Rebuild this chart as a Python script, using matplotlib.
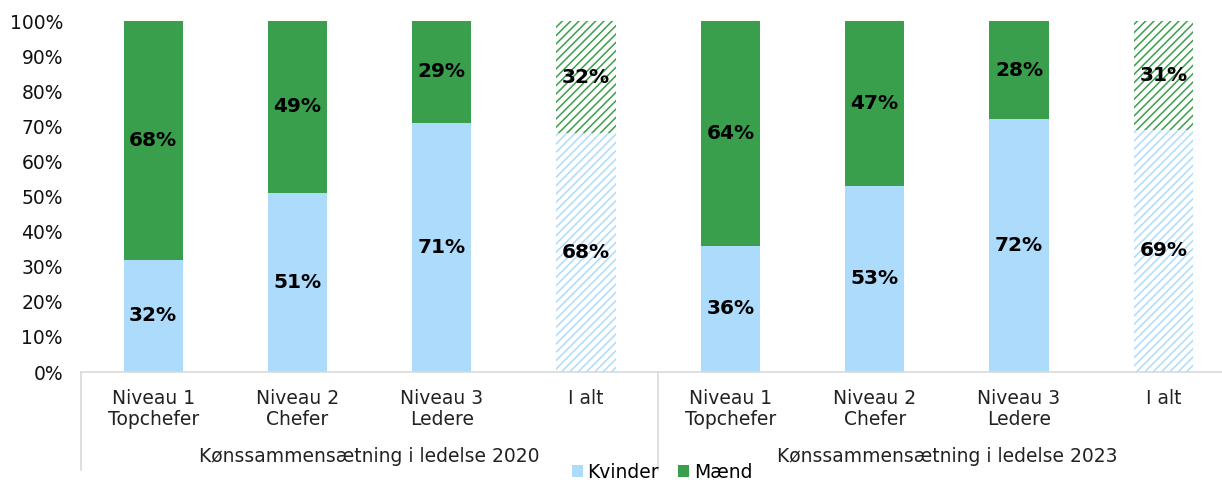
import matplotlib
matplotlib.use("Agg")
import matplotlib.pyplot as plt
from matplotlib.lines import Line2D
from matplotlib.patches import Patch
import matplotlib.transforms as mtransforms

categories = ["Niveau 1\nTopchefer", "Niveau 2\nChefer", "Niveau 3\nLedere", "I alt",
              "Niveau 1\nTopchefer", "Niveau 2\nChefer", "Niveau 3\nLedere", "I alt"]
groups = ["Kønssammensætning i ledelse 2020", "Kønssammensætning i ledelse 2023"]
kvinder = [32, 51, 71, 68, 36, 53, 72, 69]
maend = [68, 49, 29, 32, 64, 47, 28, 31]
hatched = [False, False, False, True, False, False, False, True]
yticks = [0, 10, 20, 30, 40, 50, 60, 70, 80, 90, 100]

BLUE = "#ADDBFB"
GREEN = "#3A9F4C"
GRID = "#D9D9D9"

plt.rcParams['font.family'] = ['DejaVu Sans']
plt.rcParams['hatch.linewidth'] = 1.1

fig = plt.figure(figsize=(12.22, 4.8), dpi=100)
ax = fig.add_axes([81/1222, 1 - 372/480, 8*144.3/1222, 351/480])

x = list(range(len(categories)))
w = 0.41
for i in x:
    if hatched[i]:
        ax.bar(i, kvinder[i], w, facecolor="white", edgecolor=BLUE, hatch="////", linewidth=0)
        ax.bar(i, maend[i], w, bottom=kvinder[i], facecolor="white", edgecolor=GREEN, hatch="////", linewidth=0)
    else:
        ax.bar(i, kvinder[i], w, color=BLUE, linewidth=0)
        ax.bar(i, maend[i], w, bottom=kvinder[i], color=GREEN, linewidth=0)
    ax.text(i, kvinder[i] / 2, f"{kvinder[i]}%", ha="center", va="center",
            fontsize=14.5, fontweight="bold", color="black")
    ax.text(i, kvinder[i] + maend[i] / 2, f"{maend[i]}%", ha="center", va="center",
            fontsize=14.5, fontweight="bold", color="black")

ax.set_xlim(-0.5, 7.5)
ax.set_ylim(0, 100)
ax.set_yticks(yticks)
ax.set_yticklabels([f"{t}%" for t in yticks], fontsize=13.5, color="#111111")
ax.set_xticks(x)
ax.set_xticklabels(categories, fontsize=13.5, color="#222222", linespacing=1.15)
ax.tick_params(axis="both", length=0)
ax.tick_params(axis="x", pad=12)
ax.tick_params(axis="y", pad=13)
for s in ["top", "right", "left"]:
    ax.spines[s].set_visible(False)
ax.spines["bottom"].set_color(GRID)
ax.spines["bottom"].set_linewidth(1.2)

trans = mtransforms.blended_transform_factory(ax.transData, ax.transAxes)
for xs in [-0.5, 3.5, 7.5]:
    ax.add_line(Line2D([xs, xs], [0, -0.28], transform=trans, color=GRID,
                       linewidth=1.2, clip_on=False))
for gi, g in enumerate(groups):
    ax.text(1.5 + 4 * gi, -0.241, g, transform=trans, ha="center", va="center",
            fontsize=13.5, color="#222222")

handles = [Patch(facecolor=BLUE, edgecolor="none", label="Kvinder"),
           Patch(facecolor=GREEN, edgecolor="none", label="Mænd")]
fig.legend(handles=handles, loc="center", bbox_to_anchor=(662/1222, 1 - 472/480),
           ncol=2, frameon=False, fontsize=13.5, handlelength=0.6, handleheight=0.6,
           handletextpad=0.25, columnspacing=1.0, borderpad=0)

fig.savefig("out.png", dpi=100, facecolor="white")
